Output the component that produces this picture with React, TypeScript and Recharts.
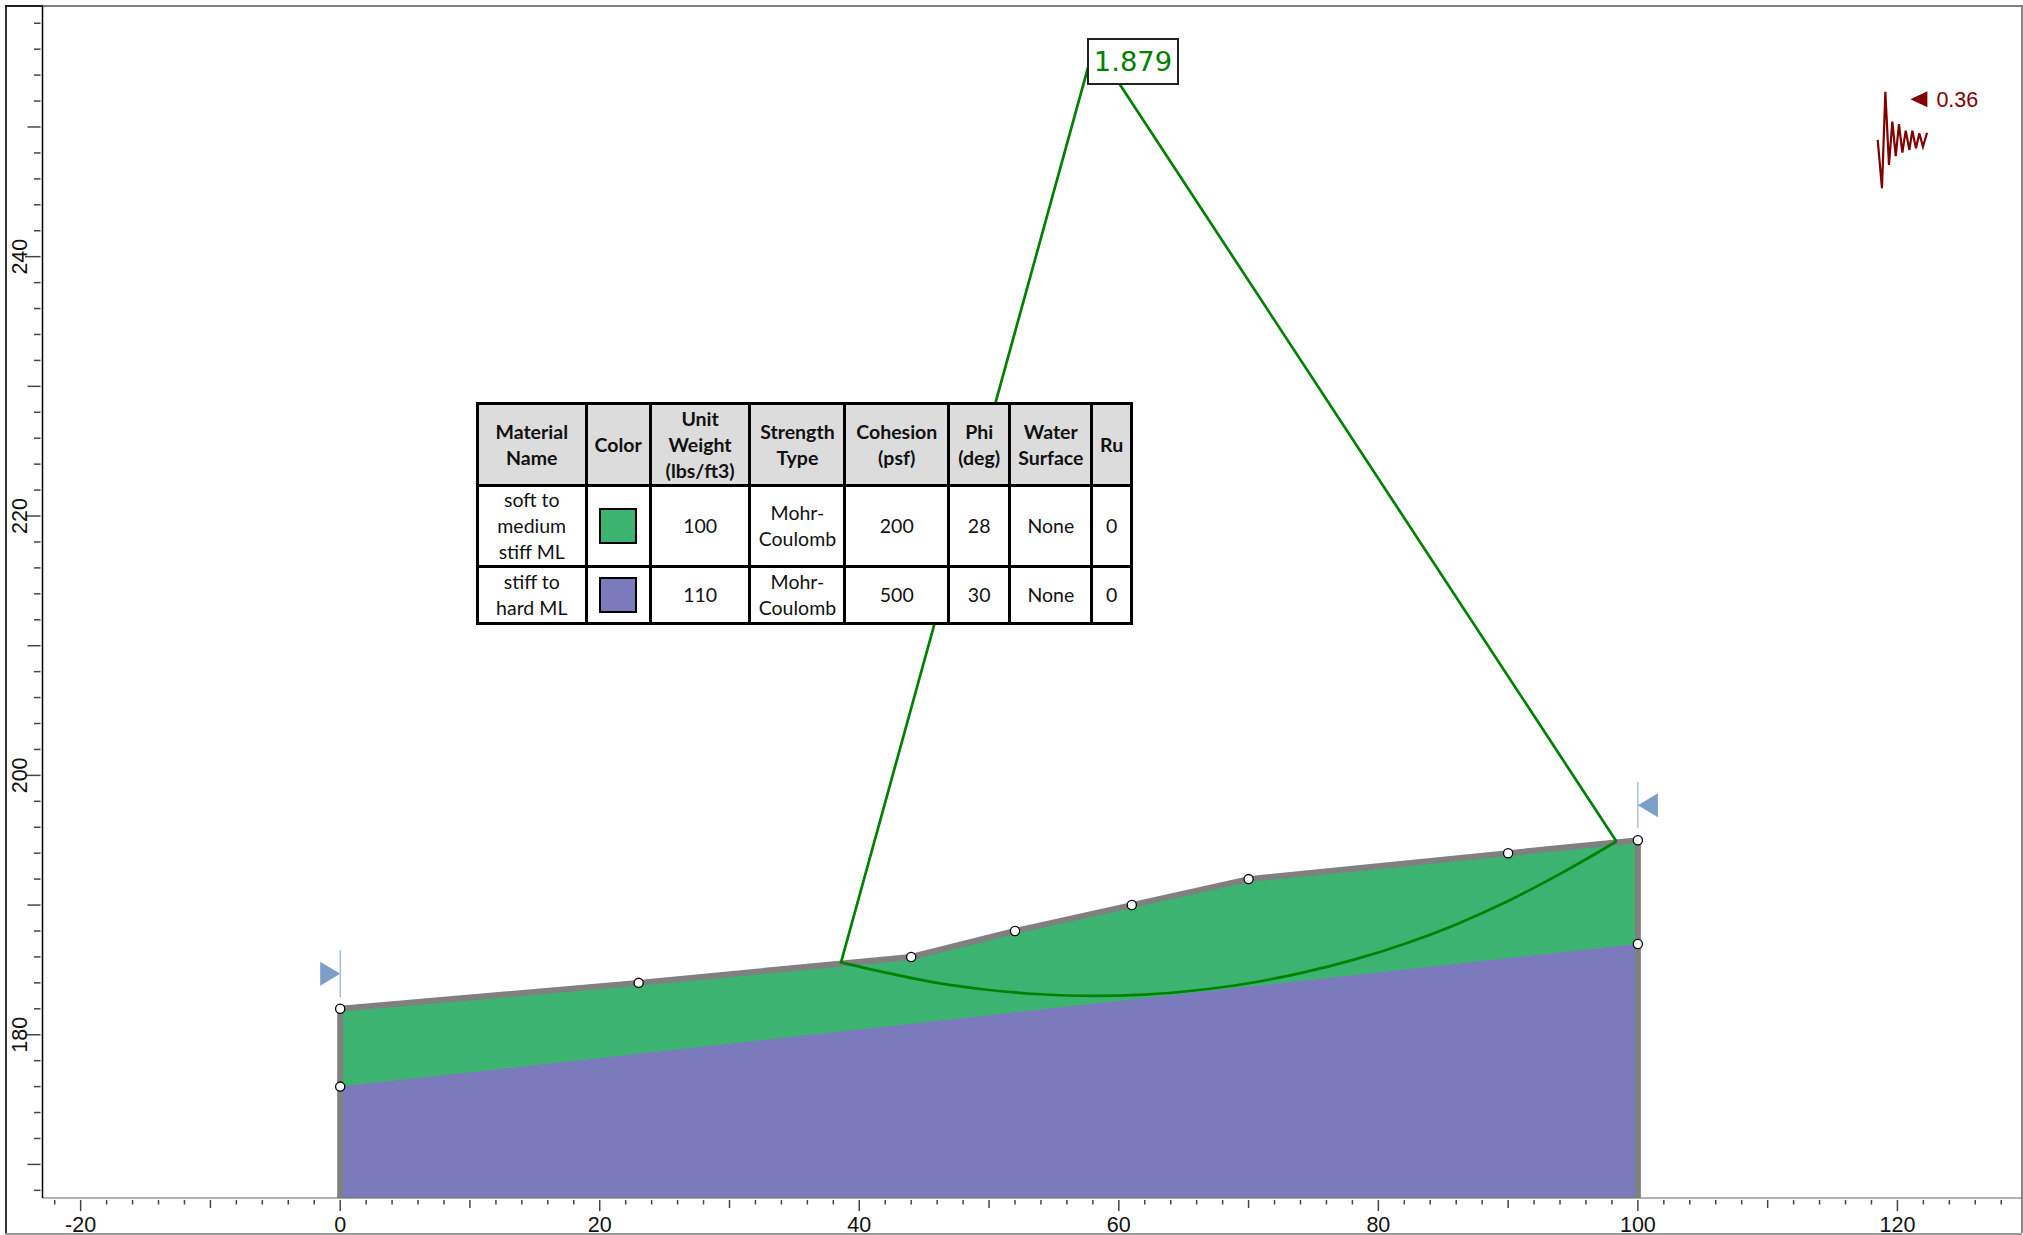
import {
  Area,
  ComposedChart,
  Line,
  Scatter,
  XAxis,
  YAxis,
} from 'recharts';

const X_DOMAIN = [-22.94, 129.6];
const Y_DOMAIN = [167.41, 259.33];

const xTicks = [
  -22, -20, -18, -16, -14, -12, -10, -8, -6, -4, -2, 0, 2, 4, 6, 8, 10, 12, 14, 16, 18, 20, 22, 24, 26,
  28, 30, 32, 34, 36, 38, 40, 42, 44, 46, 48, 50, 52, 54, 56, 58, 60, 62, 64, 66, 68, 70, 72, 74, 76,
  78, 80, 82, 84, 86, 88, 90, 92, 94, 96, 98, 100, 102, 104, 106, 108, 110, 112, 114, 116, 118, 120,
  122, 124, 126, 128,
];
const yTicks = [
  168, 170, 172, 174, 176, 178, 180, 182, 184, 186, 188, 190, 192, 194, 196, 198, 200, 202, 204, 206,
  208, 210, 212, 214, 216, 218, 220, 222, 224, 226, 228, 230, 232, 234, 236, 238, 240, 242, 244, 246,
  248, 250, 252, 254, 256, 258,
];

// slope profile
const groundSurface = [
  { x: 0, y: 182 },
  { x: 23, y: 184 },
  { x: 44, y: 186 },
  { x: 52, y: 188 },
  { x: 61, y: 190 },
  { x: 70, y: 192 },
  { x: 90, y: 194 },
  { x: 100, y: 195 },
];
const materialBoundary = [
  { x: 0, y: 176 },
  { x: 100, y: 187 },
];
const outline = [
  { x: 0, y: 167.41 },
  { x: 0, y: 182 },
  { x: 23, y: 184 },
  { x: 44, y: 186 },
  { x: 52, y: 188 },
  { x: 61, y: 190 },
  { x: 70, y: 192 },
  { x: 90, y: 194 },
  { x: 100, y: 195 },
  { x: 100, y: 167.41 },
];
const vertices = [
  { x: 0, y: 182 },
  { x: 0, y: 176 },
  { x: 23, y: 184 },
  { x: 44, y: 186 },
  { x: 52, y: 188 },
  { x: 61, y: 190 },
  { x: 70, y: 192 },
  { x: 90, y: 194 },
  { x: 100, y: 195 },
  { x: 100, y: 187 },
];

// critical slip surface and the two radii up to the circle centre
const slipSurface = [
  { x: 38.5, y: 185.6 },
  { x: 42, y: 184.8 },
  { x: 46, y: 184.0 },
  { x: 50, y: 183.45 },
  { x: 54, y: 183.12 },
  { x: 58, y: 183.0 },
  { x: 62, y: 183.1 },
  { x: 66, y: 183.43 },
  { x: 70, y: 183.97 },
  { x: 74, y: 184.75 },
  { x: 78, y: 185.75 },
  { x: 82, y: 187.0 },
  { x: 86, y: 188.51 },
  { x: 90, y: 190.31 },
  { x: 94, y: 192.4 },
  { x: 98.35, y: 194.9 },
];
const slipRadii = [
  { x: 38.6, y: 185.6 },
  { x: 58.1, y: 256.3 },
  { x: 98.35, y: 194.9 },
];

const leftLimitLine = [
  { x: 0, y: 186.55 },
  { x: 0, y: 182.9 },
];
const rightLimitLine = [
  { x: 100, y: 199.5 },
  { x: 100, y: 195.96 },
];
const leftLimitMark = [{ x: 0, y: 184.7 }];
const rightLimitMark = [{ x: 100, y: 197.7 }];

const seismicTrace = [
  { x: 118.48, y: 249.0 },
  { x: 118.81, y: 245.27 },
  { x: 119.07, y: 252.72 },
  { x: 119.35, y: 247.07 },
  { x: 119.61, y: 250.41 },
  { x: 119.87, y: 247.76 },
  { x: 120.12, y: 250.23 },
  { x: 120.38, y: 248.02 },
  { x: 120.64, y: 249.72 },
  { x: 120.92, y: 248.23 },
  { x: 121.15, y: 249.72 },
  { x: 121.43, y: 248.36 },
  { x: 121.69, y: 249.51 },
  { x: 121.97, y: 248.48 },
  { x: 122.28, y: 249.56 },
];
const seismicMark = [{ x: 121.0, y: 252.14 }];
const SEISMIC_COEFF = '0.36';
const FACTOR_OF_SAFETY = '1.879';

const GREEN = '#3cb371';
const PURPLE = '#7b7abc';
const GREY = '#808080';
const SLIP = '#008000';
const BLUE = '#7b9fc7';
const DARK_RED = '#800000';

const tableHeaders = [
  'Material\nName',
  'Color',
  'Unit\nWeight\n(lbs/ft3)',
  'Strength\nType',
  'Cohesion\n(psf)',
  'Phi\n(deg)',
  'Water\nSurface',
  'Ru',
];
const tableRows = [
  ['soft to\nmedium\nstiff ML', GREEN, '100', 'Mohr-\nCoulomb', '200', '28', 'None', '0'],
  ['stiff to\nhard ML', PURPLE, '110', 'Mohr-\nCoulomb', '500', '30', 'None', '0'],
];
const columnWidths = [108.5, 64.3, 99.6, 95.1, 103.6, 61.2, 82.1, 39.6];
const rowHeights = [82, 81, 57];

function XTick({ x, y, payload }: any) {
  const v = payload.value;
  const len = v % 20 === 0 ? 11 : v % 10 === 0 ? 8 : 4.5;
  return (
    <g>
      <line x1={x} x2={x} y1={y} y2={y + len} stroke="#444" strokeWidth={1.5} />
      {v % 20 === 0 && (
        <text x={x} y={y + 31.5} textAnchor="middle" fontSize={21.5} fontFamily="Liberation Sans" fill="#111">
          {v}
        </text>
      )}
    </g>
  );
}

function YTick({ x, y, payload }: any) {
  const v = payload.value;
  const len = v % 20 === 0 ? 15.5 : v % 10 === 0 ? 13 : 6.5;
  return (
    <g>
      <line x1={x - len} x2={x} y1={y} y2={y} stroke="#444" strokeWidth={1.5} />
      {v % 20 === 0 && (
        <text
          transform={`translate(26.5 ${y}) rotate(-90)`}
          textAnchor="middle"
          fontSize={21.5}
          fontFamily="Liberation Sans"
          fill="#111"
        >
          {v}
        </text>
      )}
    </g>
  );
}

function WhiteDot({ cx, cy }: any) {
  return <circle cx={cx} cy={cy} r={4.6} fill="#fff" stroke="#000" strokeWidth={1.3} />;
}

function RightFlag({ cx, cy }: any) {
  return <path d={`M${cx} ${cy}L${cx - 20} ${cy - 12}L${cx - 20} ${cy + 12}Z`} fill={BLUE} />;
}

function LeftFlag({ cx, cy }: any) {
  return <path d={`M${cx} ${cy}L${cx + 20} ${cy - 12}L${cx + 20} ${cy + 12}Z`} fill={BLUE} />;
}

function SeismicArrow({ cx, cy }: any) {
  return (
    <g>
      <path d={`M${cx} ${cy}L${cx + 17} ${cy - 8}L${cx + 17} ${cy + 8}Z`} fill={DARK_RED} />
      <text x={cx + 26} y={cy + 7.5} fontSize={21.5} fontFamily="Liberation Sans" fill={DARK_RED}>
        {SEISMIC_COEFF}
      </text>
    </g>
  );
}

function MaterialTable() {
  const cell = { border: '3px solid #000', padding: 0, textAlign: 'center', whiteSpace: 'pre-line' } as const;
  return (
    <table
      style={{
        position: 'absolute',
        left: 476,
        top: 402,
        width: 653,
        tableLayout: 'fixed',
        borderCollapse: 'collapse',
        background: '#fff',
        fontFamily: 'Lato',
        fontSize: 19.5,
        lineHeight: '26px',
        color: '#111',
      }}
    >
      <colgroup>
        {columnWidths.map((w, i) => (
          <col key={i} style={{ width: w }} />
        ))}
      </colgroup>
      <tbody>
        <tr style={{ height: rowHeights[0] }}>
          {tableHeaders.map((h) => (
            <td key={h} style={{ ...cell, background: '#dcdcdc', fontWeight: 700 }}>
              {h}
            </td>
          ))}
        </tr>
        {tableRows.map((row, r) => (
          <tr key={r} style={{ height: rowHeights[r + 1] }}>
            {row.map((c, i) => (
              <td key={i} style={cell}>
                {i === 1 ? (
                  <div
                    style={{
                      width: 38,
                      height: 36,
                      margin: '0 auto',
                      background: c,
                      border: '2px solid #000',
                      boxSizing: 'border-box',
                    }}
                  />
                ) : (
                  c
                )}
              </td>
            ))}
          </tr>
        ))}
      </tbody>
    </table>
  );
}

export default function App() {
  return (
    <div style={{ position: 'absolute', left: 0, top: 0, width: 2023, height: 1235, background: '#fff', overflow: 'hidden' }}>
      {/* window frame */}
      <div style={{ position: 'absolute', left: 5, top: 5, width: 2, height: 1228, background: '#333' }} />
      <div style={{ position: 'absolute', left: 5, top: 1232.5, width: 2017, height: 2, background: '#999' }} />
      <div style={{ position: 'absolute', left: 2021, top: 5, width: 1.5, height: 1228, background: '#888' }} />
      <div style={{ position: 'absolute', left: 5, top: 5, width: 38, height: 2, background: '#222' }} />
      <div style={{ position: 'absolute', left: 43, top: 5, width: 1979, height: 2, background: GREY }} />

      <div style={{ position: 'absolute', left: 0, top: 0 }}>
        <ComposedChart width={2023} height={1235} margin={{ top: 6, right: 1, bottom: 0, left: 0 }}>
          <XAxis
            type="number"
            dataKey="x"
            domain={X_DOMAIN}
            ticks={xTicks}
            interval={0}
            allowDataOverflow
            height={37}
            tickSize={0}
            tickLine={false}
            tick={XTick}
            stroke="#666"
            strokeWidth={1.2}
          />
          <YAxis
            type="number"
            dataKey="y"
            domain={Y_DOMAIN}
            ticks={yTicks}
            interval={0}
            allowDataOverflow
            width={42.5}
            tickSize={0}
            tickLine={false}
            tick={YTick}
            stroke="#000"
            strokeWidth={1.5}
          />
          <Area data={groundSurface} dataKey="y" type="linear" fill={GREEN} fillOpacity={1} stroke="none" isAnimationActive={false} />
          <Area data={materialBoundary} dataKey="y" type="linear" fill={PURPLE} fillOpacity={1} stroke="none" isAnimationActive={false} />
          <Line data={outline} dataKey="y" type="linear" stroke={GREY} strokeWidth={6} dot={false} isAnimationActive={false} />
          <Line data={slipSurface} dataKey="y" type="monotone" stroke={SLIP} strokeWidth={2.7} dot={false} isAnimationActive={false} />
          <Line data={slipRadii} dataKey="y" type="linear" stroke={SLIP} strokeWidth={2.7} dot={false} isAnimationActive={false} />
          <Line data={leftLimitLine} dataKey="y" type="linear" stroke={BLUE} strokeWidth={1} dot={false} isAnimationActive={false} />
          <Line data={rightLimitLine} dataKey="y" type="linear" stroke={BLUE} strokeWidth={1} dot={false} isAnimationActive={false} />
          <Line data={seismicTrace} dataKey="y" type="linear" stroke={DARK_RED} strokeWidth={2.2} dot={false} isAnimationActive={false} />
          <Scatter data={leftLimitMark} shape={RightFlag} isAnimationActive={false} />
          <Scatter data={rightLimitMark} shape={LeftFlag} isAnimationActive={false} />
          <Scatter data={seismicMark} shape={SeismicArrow} isAnimationActive={false} />
          <Scatter data={vertices} shape={WhiteDot} isAnimationActive={false} />
        </ComposedChart>
      </div>

      <MaterialTable />

      <div
        style={{
          position: 'absolute',
          left: 1087,
          top: 38,
          width: 92,
          height: 47,
          boxSizing: 'border-box',
          border: '2px solid #222',
          background: '#fff',
          color: SLIP,
          fontFamily: 'DejaVu Sans',
          fontSize: 27.4,
          lineHeight: '43px',
          textAlign: 'center',
        }}
      >
        {FACTOR_OF_SAFETY}
      </div>
    </div>
  );
}
